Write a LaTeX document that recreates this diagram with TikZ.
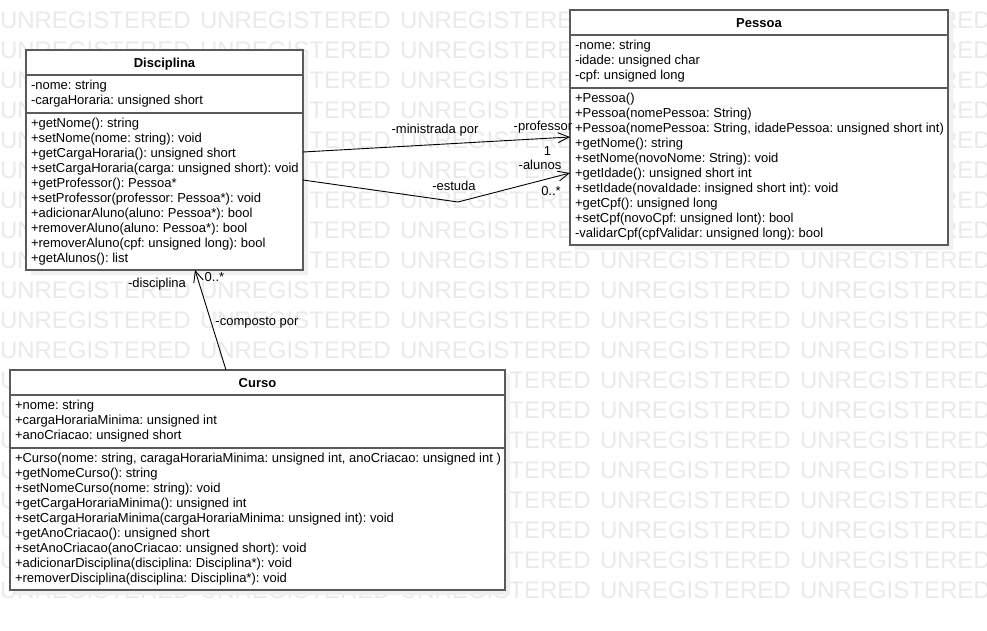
\documentclass[tikz,border=0pt]{standalone}
\usepackage{fontspec}
\setmainfont{Liberation Sans}
\usetikzlibrary{arrows.meta,shadows}
\definecolor{wmark}{RGB}{234,234,234}
\definecolor{shade}{RGB}{240,240,240}
\definecolor{frame}{RGB}{90,90,90}
\frenchspacing
\begin{document}
\begin{tikzpicture}[x=1pt,y=-1pt,
  every node/.style={inner sep=0pt,outer sep=0pt},
  wm/.style={anchor=base west,text=wmark,font=\fontsize{24}{24}\selectfont},
  classbox/.style={draw=frame,line width=1.2pt,fill=white,anchor=north west,
    drop shadow={fill=shade,opacity=1,shadow xshift=5pt,shadow yshift=-5pt}},
  divider/.style={draw=frame,line width=1.2pt},
  title/.style={font=\fontsize{13}{15}\selectfont\bfseries,anchor=base},
  member/.style={font=\fontsize{13}{15}\selectfont,anchor=base west},
  lbl/.style={font=\fontsize{13}{15}\selectfont,anchor=base},
  assoc/.style={draw=black,line width=0.9pt,-{Straight Barb[length=11pt,width=10pt]}},
]
\useasboundingbox[fill=white] (0,0) rectangle (987,630);

% watermark
\foreach \r in {0,...,19}
  \foreach \c in {0,...,4}
    \node[wm] (wm-\r-\c) at ({200*\c},{28+30*\r}) {UNREGISTERED};

% ---------- Disciplina ----------
\node[classbox,minimum width=277pt,minimum height=220pt] (dis) at (26,50) {};
\draw[divider] ([yshift=-25pt]dis.north west) -- ([yshift=-25pt]dis.north east);
\draw[divider] ([yshift=-63pt]dis.north west) -- ([yshift=-63pt]dis.north east);
\node[title] (disT) at ([yshift=-17pt]dis.north) {Disciplina};
\foreach \t [count=\i from 0] in {{-nome: string},{-cargaHoraria: unsigned short}}
  \node[member] (disA\i) at (31,{89.5+15*\i}) {\t};
\foreach \t [count=\i from 0] in {
  {+getNome(): string},
  {+setNome(nome: string): void},
  {+getCargaHoraria(): unsigned short},
  {+setCargaHoraria(carga: unsigned short): void},
  {+getProfessor(): Pessoa*},
  {+setProfessor(professor: Pessoa*): void},
  {+adicionarAluno(aluno: Pessoa*): bool},
  {+removerAluno(aluno: Pessoa*): bool},
  {+removerAluno(cpf: unsigned long): bool},
  {+getAlunos(): list}}
  \node[member] (disM\i) at (31,{127.5+15*\i}) {\t};

% ---------- Pessoa ----------
\node[classbox,minimum width=378pt,minimum height=235pt] (pes) at (570,10) {};
\draw[divider] ([yshift=-25pt]pes.north west) -- ([yshift=-25pt]pes.north east);
\draw[divider] ([yshift=-78pt]pes.north west) -- ([yshift=-78pt]pes.north east);
\node[title] (pesT) at ([yshift=-17pt]pes.north) {Pessoa};
\foreach \t [count=\i from 0] in {{-nome: string},{-idade: unsigned char},{-cpf: unsigned long}}
  \node[member] (pesA\i) at (575,{49.5+15*\i}) {\t};
\foreach \t [count=\i from 0] in {
  {+Pessoa()},
  {+Pessoa(nomePessoa: String)},
  {+Pessoa(nomePessoa: String, idadePessoa: unsigned short int)},
  {+getNome(): string},
  {+setNome(novoNome: String): void},
  {+getIdade(): unsigned short int},
  {+setIdade(novaIdade: insigned short int): void},
  {+getCpf(): unsigned long},
  {+setCpf(novoCpf: unsigned lont): bool},
  {-validarCpf(cpfValidar: unsigned long): bool}}
  \node[member] (pesM\i) at (575,{102.5+15*\i}) {\t};

% ---------- Curso ----------
\node[classbox,minimum width=495pt,minimum height=220pt] (cur) at (10,370) {};
\draw[divider] ([yshift=-25pt]cur.north west) -- ([yshift=-25pt]cur.north east);
\draw[divider] ([yshift=-78pt]cur.north west) -- ([yshift=-78pt]cur.north east);
\node[title] (curT) at ([yshift=-17pt]cur.north) {Curso};
\foreach \t [count=\i from 0] in {{+nome: string},{+cargaHorariaMinima: unsigned int},{+anoCriacao: unsigned short}}
  \node[member] (curA\i) at (15,{409.5+15*\i}) {\t};
\foreach \t [count=\i from 0] in {
  {+Curso(nome: string, caragaHorariaMinima: unsigned int, anoCriacao: unsigned int )},
  {+getNomeCurso(): string},
  {+setNomeCurso(nome: string): void},
  {+getCargaHorariaMinima(): unsigned int},
  {+setCargaHorariaMinima(cargaHorariaMinima: unsigned int): void},
  {+getAnoCriacao(): unsigned short},
  {+setAnoCriacao(anoCriacao: unsigned short): void},
  {+adicionarDisciplina(disciplina: Disciplina*): void},
  {+removerDisciplina(disciplina: Disciplina*): void}}
  \node[member] (curM\i) at (15,{462.5+15*\i}) {\t};

% ---------- associations ----------
\coordinate (bend) at (458,202);
\draw[assoc] ([yshift=-102pt]dis.north east) -- ([yshift=-127pt]pes.north west);
\draw[assoc] ([yshift=-130pt]dis.north east) -- (bend) -- ([yshift=-163pt]pes.north west);
\draw[assoc] ([xshift=216pt]cur.north west) -- ([xshift=169pt]dis.south west);

\node[lbl] (lMin) at (435,133) {-ministrada por};
\node[lbl] (lProf) at (543,130) {-professor};
\node[lbl] (lOne) at (547.5,155) {1};
\node[lbl] (lAlu) at (540,169.5) {-alunos};
\node[lbl] (lEst) at (454,190) {-estuda};
\node[lbl] (lMany) at (551,195) {0..*};
\node[lbl] (lDisc) at (157,287) {-disciplina};
\node[lbl] (lMany2) at (214.5,281) {0..*};
\node[lbl] (lComp) at (257,325) {-composto por};
\end{tikzpicture}
\end{document}
